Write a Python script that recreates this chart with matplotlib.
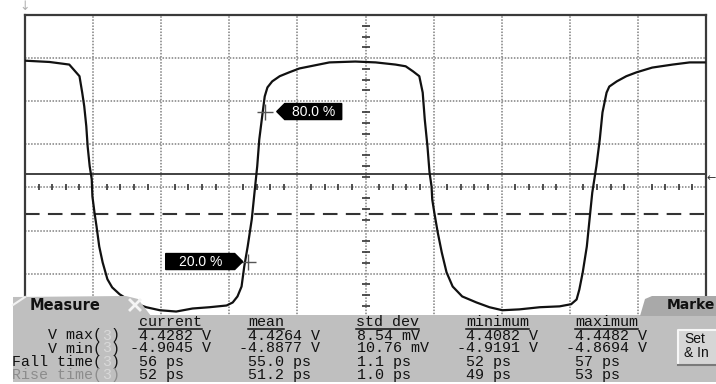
import matplotlib
matplotlib.use("Agg")
import matplotlib.pyplot as plt
from matplotlib.patches import Polygon, Rectangle

# waveform in divisions (x: 10 div wide, y: 8 div high)
wave_x = [-5.0, -4.64, -4.35, -4.30, -4.20, -4.16, -4.13, -4.10, -4.08, -4.05,
          -4.02, -4.01, -3.98, -3.95, -3.91, -3.86, -3.79, -3.72, -3.61, -3.42,
          -3.22, -3.02, -2.78, -2.54, -2.29, -2.04, -1.95, -1.88, -1.82, -1.78,
          -1.73, -1.67, -1.63, -1.59, -1.56, -1.51, -1.48, -1.44, -1.37, -1.26,
          -1.12, -0.97, -0.53, -0.15, 0.15, 0.44, 0.59, 0.70, 0.79, 0.84,
          0.87, 0.91, 0.94, 0.97, 0.98, 1.01, 1.06, 1.12, 1.19, 1.28,
          1.42, 1.63, 1.82, 2.01, 2.26, 2.56, 2.85, 3.02, 3.10, 3.14,
          3.19, 3.25, 3.29, 3.33, 3.39, 3.44, 3.48, 3.54, 3.58, 3.69,
          3.83, 3.98, 4.21, 4.51, 4.76, 4.98]
wave_y = [2.94, 2.91, 2.85, 2.76, 2.58, 2.20, 1.88, 1.42, 0.95, 0.49,
          0.19, -0.21, -0.58, -0.90, -1.37, -1.74, -2.13, -2.32, -2.48, -2.67,
          -2.78, -2.85, -2.88, -2.81, -2.78, -2.74, -2.67, -2.53, -2.30, -1.83,
          -1.37, -0.74, -0.12, 0.49, 1.11, 1.74, 2.11, 2.32, 2.46, 2.58,
          2.67, 2.76, 2.90, 2.92, 2.90, 2.85, 2.81, 2.69, 2.58, 2.20,
          1.58, 0.95, 0.35, 0.02, -0.28, -0.58, -1.04, -1.51, -1.97, -2.30,
          -2.53, -2.67, -2.78, -2.85, -2.83, -2.78, -2.76, -2.71, -2.60, -2.37,
          -1.97, -1.37, -0.74, -0.12, 0.49, 1.11, 1.74, 2.20, 2.34, 2.46,
          2.58, 2.67, 2.78, 2.85, 2.90, 2.90]

trigger_level = 0.31
ref_level = -0.61

# 80 % / 20 % measurement markers
marker_x = [-1.48, -1.73]
marker_y = [1.76, -1.72]
marker_labels = ["80.0 %", "20.0 %"]

# measurement table
row_labels = ["V max(3)", "V min(3)", "Fall time(3)", "Rise time(3)"]
columns = ["current", "mean", "std dev", "minimum", "maximum"]
col_current = [" 4.4282 V", "-4.9045 V", " 56 ps", " 52 ps"]
col_mean = [" 4.4264 V", "-4.8877 V", " 55.0 ps", " 51.2 ps"]
col_std = ["8.54 mV", "10.76 mV", "1.1 ps", "1.0 ps"]
col_min = [" 4.4082 V", "-4.9191 V", " 52 ps", " 49 ps"]
col_max = [" 4.4482 V", "-4.8694 V", " 57 ps", " 53 ps"]

W, H = 716, 384
fig = plt.figure(figsize=(W / 100, H / 100), dpi=100)
fig.patch.set_facecolor("white")

# scope graticule
ax = fig.add_axes([25 / W, 1 - 359.8 / H, 681 / W, 344.8 / H])
ax.set_xlim(-5, 5)
ax.set_ylim(-4, 4)
ax.set_xticks([])
ax.set_yticks([])
for s in ax.spines.values():
    s.set_color("#3a3a3a")
    s.set_linewidth(1.6)

grid_kw = dict(color="#808080", lw=1.1, ls=(0, (1, 1)), zorder=1)
for gx in range(-4, 5):
    ax.axvline(gx, **grid_kw)
for gy in range(-3, 4):
    ax.axhline(gy, **grid_kw)

# minor ticks on the centre axes
hx = [i / 5 for i in range(-25, 26) if i % 5 != 0]
ax.plot(hx, [0] * len(hx), ls="none", marker="|", ms=5, mew=1.2, color="#333333", zorder=2)
vy = [i / 4 for i in range(-16, 17) if i % 4 != 0]
ax.plot([0] * len(vy), vy, ls="none", marker="_", ms=6, mew=1.2, color="#333333", zorder=2)

ax.axhline(trigger_level, color="#333333", lw=1.3, zorder=2)
ax.axhline(ref_level, color="#333333", lw=1.5, ls=(0, (7, 4)), zorder=2)

ax.plot(wave_x, wave_y, color="#111111", lw=1.6, zorder=3)

# marker crosses
ax.plot(marker_x, marker_y, ls="none", marker="+", ms=11, mew=1.0, color="#555555", zorder=4)

# overlay in pixel coordinates for the UI elements
ov = fig.add_axes([0, 0, 1, 1], zorder=5)
ov.set_xlim(0, W)
ov.set_ylim(H, 0)
ov.axis("off")
ov.patch.set_alpha(0)


def to_px(x, y):
    d = ax.transData.transform((x, y))
    return ov.transData.inverted().transform(d)


# marker tags
for i, (mx, my) in enumerate(zip(marker_x, marker_y)):
    px, py = to_px(mx, my)
    if i == 0:
        tip = px + 12
        pts = [(tip, py), (tip + 8, py - 8), (tip + 65, py - 8), (tip + 65, py + 8), (tip + 8, py + 8)]
        tx = tip + 37
    else:
        tip = px - 5
        pts = [(tip, py), (tip - 8, py - 8), (tip - 77, py - 8), (tip - 77, py + 8), (tip - 8, py + 8)]
        tx = tip - 42
    ov.add_patch(Polygon(pts, closed=True, fc="black", ec="black"))
    ov.text(tx, py, marker_labels[i], color="white", fontsize=10, family="Liberation Sans",
            ha="center", va="center")

# small arrows around the graticule
ov.text(25, 6, "\u2193", color="#b0b0b0", fontsize=9, ha="center", va="center")
ov.text(711, 178, "\u2190", color="#333333", fontsize=8, ha="center", va="center")

# measure panel
panel_c = "#bfbfbf"
ov.add_patch(Rectangle((13, 315), W - 13, 67, fc=panel_c, ec="none"))
ov.add_patch(Polygon([(13, 316), (13, 297), (126, 296), (138, 299), (151, 316)],
                     closed=True, fc=panel_c, ec="none"))
ov.plot([13, 25], [305, 297], color="#f2f2f2", lw=1.5)
ov.text(30, 305, "Measure", fontsize=10.5, fontweight="bold", family="DejaVu Sans",
        color="#111111", va="center", ha="left")
ov.plot([130, 140], [300, 310], color="#f4f4f4", lw=2)
ov.plot([130, 140], [310, 300], color="#f4f4f4", lw=2)

# markers tab and button on the right
ov.add_patch(Polygon([(640, 316), (645, 299), (652, 296), (W, 296), (W, 316)],
                     closed=True, fc="#a9a9a9", ec="none"))
ov.text(667, 305, "Marke", fontsize=10, fontweight="bold", family="DejaVu Sans",
        color="#111111", va="center", ha="left")
ov.add_patch(Rectangle((678, 330), 45, 34, fc="#d6d6d6", ec="none"))
ov.plot([678, 678, W], [364, 330, 330], color="#f7f7f7", lw=1.5)
ov.plot([678, W], [365, 365], color="#7a7a7a", lw=1.5)
ov.text(684, 339, "Set", fontsize=10, family="Liberation Sans", color="#111111", va="center")
ov.text(684, 353, "& In", fontsize=10, family="Liberation Sans", color="#111111", va="center")

mono = dict(family="Liberation Mono", fontsize=10.8, va="center", ha="left")
cw = 9.0
row_y = [335.5, 348.5, 362, 375]
label_end = 120

for lab, y in zip(row_labels, row_y):
    c = "#8c8c8c" if lab.startswith("Rise") else "#111111"
    x0 = label_end - len(lab) * cw
    k = lab.index("3")
    ov.text(x0, y, lab[:k], color=c, **mono)
    ov.text(x0 + k * cw, y, "3", color="#d9d9d9", **mono)
    ov.text(x0 + (k + 1) * cw, y, lab[k + 1:], color=c, **mono)

header_x = [139, 248, 356, 466, 575]
value_x = [130, 239, 357, 457, 566]
col_vals = [col_current, col_mean, col_std, col_min, col_max]
for hx0, vx0, name, vals in zip(header_x, value_x, columns, col_vals):
    ov.text(hx0, 322, name, color="#111111", **mono)
    ov.plot([hx0, hx0 + len(name) * cw], [329, 329], color="#111111", lw=1.1)
    for v, y in zip(vals, row_y):
        ov.text(vx0, y, v, color="#111111", **mono)

fig.savefig("out.png", dpi=100)
